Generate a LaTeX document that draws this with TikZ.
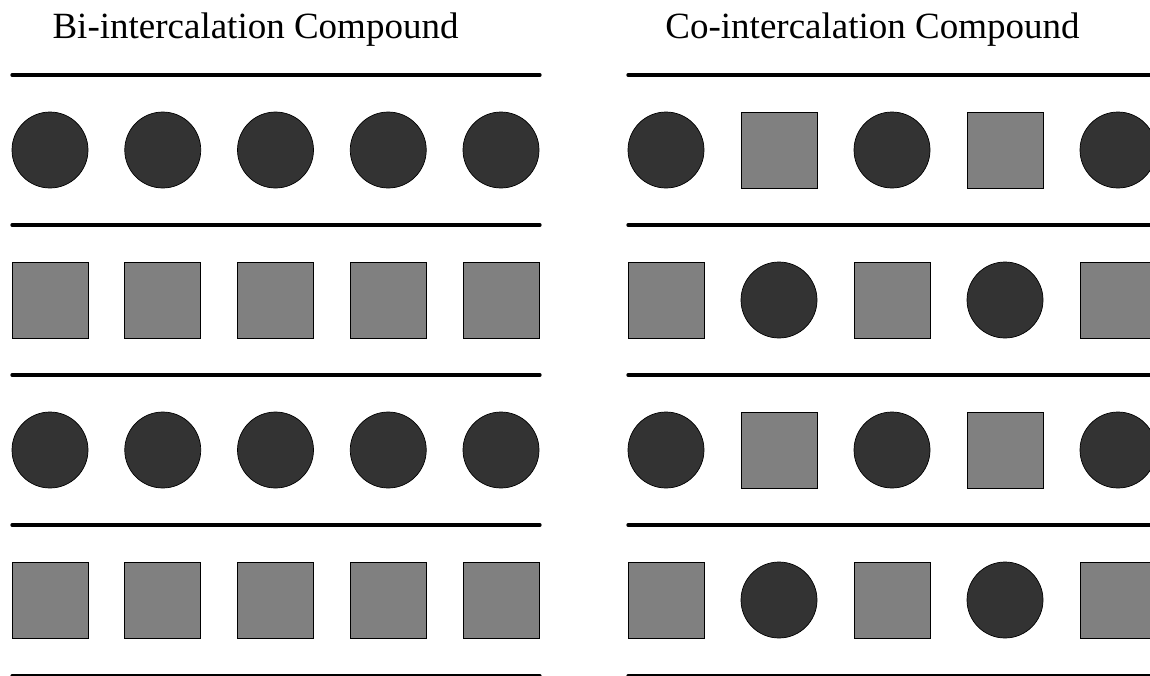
\documentclass[tikz,border=0pt]{standalone}
\usepackage{fontspec}
\setmainfont{Liberation Serif}
\definecolor{dark}{HTML}{333333}
\definecolor{mid}{HTML}{808080}
\begin{document}
\begin{tikzpicture}[x=1pt,y=-1pt,
  layer/.style={line width=3.3pt,line cap=round},
  ion/.style={circle,fill=dark,draw=black,line width=0.7pt,minimum size=76pt,inner sep=0pt},
  mol/.style={rectangle,fill=mid,draw=black,line width=0.7pt,minimum size=76pt,inner sep=0pt},
  title/.style={anchor=base,font=\fontsize{37}{41}\selectfont}]
\useasboundingbox (0,0) rectangle (1150,675);
\clip (0,0) rectangle (1150,675);
\node[title] (tl) at (255.5,38) {Bi-intercalation Compound};
\node[title] (tr) at (872.5,38) {Co-intercalation Compound};
% layers
\foreach \k/\y in {1/75,2/225,3/375,4/525,5/676}{
  \coordinate (la\k) at (12,\y); \coordinate (lb\k) at (540,\y);
  \coordinate (ra\k) at (628,\y); \coordinate (rb\k) at (1160,\y);
  \draw[layer] (la\k) -- (lb\k);
  \draw[layer] (ra\k) -- (rb\k);
}
% left: bi-intercalation
\foreach \i in {0,...,4}{
  \pgfmathsetmacro{\xx}{50+112.75*\i}
  \node[ion] (L1\i) at (\xx,150) {};
  \node[mol] (L2\i) at (\xx,300) {};
  \node[ion] (L3\i) at (\xx,450) {};
  \node[mol] (L4\i) at (\xx,600) {};
}
% right: co-intercalation
\foreach \i/\a/\b in {0/ion/mol,1/mol/ion,2/ion/mol,3/mol/ion,4/ion/mol}{
  \pgfmathsetmacro{\xx}{666+113*\i}
  \node[\a] (R1\i) at (\xx,150) {};
  \node[\b] (R2\i) at (\xx,300) {};
  \node[\a] (R3\i) at (\xx,450) {};
  \node[\b] (R4\i) at (\xx,600) {};
}
\end{tikzpicture}
\end{document}
